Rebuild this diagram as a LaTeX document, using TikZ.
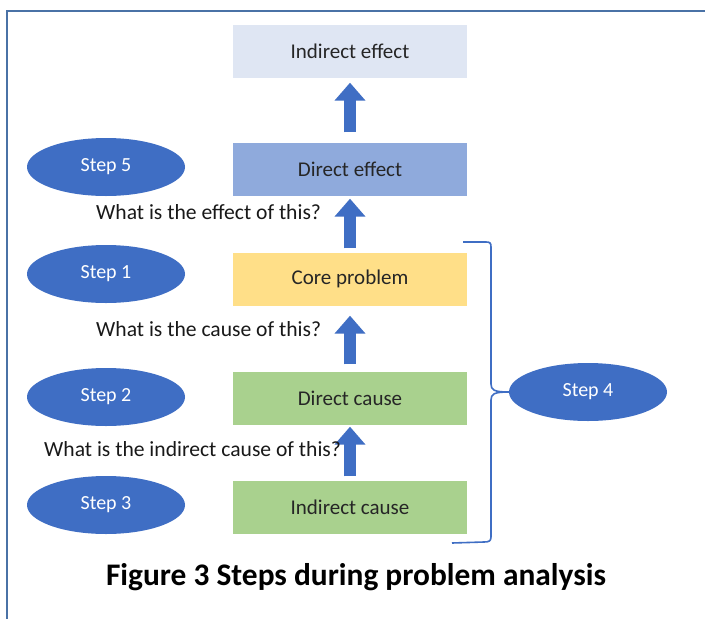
\documentclass[tikz,border=0pt]{standalone}
\usepackage{fontspec}
\setmainfont{Carlito}
\usetikzlibrary{arrows.meta,shapes.geometric}
\definecolor{frameblue}{HTML}{4A72A6}
\definecolor{stepblue}{HTML}{3F6EC4}
\definecolor{pale}{HTML}{DFE6F3}
\definecolor{mid}{HTML}{8FAADC}
\definecolor{core}{HTML}{FFDF88}
\definecolor{grn}{HTML}{A9D18E}
\begin{document}
\begin{tikzpicture}[x=1pt,y=-1pt,
  box/.style={rectangle,minimum width=234pt,minimum height=53pt,inner sep=0pt,
     font=\fontsize{21}{25}\selectfont,text=black!85},
  stepell/.style={ellipse,fill=stepblue,minimum width=158pt,minimum height=58pt,inner sep=0pt,
     text=white,font=\fontsize{20}{24}\selectfont},
  question/.style={anchor=west,inner sep=0pt,font=\fontsize{21.6}{26}\selectfont,text=black!90},
  bigarrow/.style={draw=stepblue,line width=12pt,-{Triangle[width=30pt,length=18pt]}},
  bracestyle/.style={draw=stepblue,line width=1.6pt,line join=round}]
\useasboundingbox (0,0) rectangle (705,619);
\fill[white] (0,0) rectangle (705,619);
% frame
\draw[frameblue,line width=1.8pt] (7,619) -- (7,11) -- (705,11);

% boxes
\node[box,fill=pale] (ie) at (350,51) {Indirect effect};
\node[box,fill=mid]  (de) at (350,169) {Direct effect};
\node[box,fill=core] (cp) at (350,279) {Core problem};
\node[box,fill=grn]  (dc) at (350,398) {Direct cause};
\node[box,fill=grn]  (ic) at (350,507) {Indirect cause};

% arrows
\draw[bigarrow,shorten <=10pt,shorten >=5pt] (de.north) -- (ie.south);
\draw[bigarrow,shorten <=4pt,shorten >=3pt] (cp.north) -- (de.south);
\draw[bigarrow,shorten <=7pt,shorten >=10pt] (dc.north) -- (cp.south);
\draw[bigarrow,shorten <=4pt,shorten >=2pt] (ic.north) -- (dc.south);

% step ellipses
\node[stepell] (s5) at (106,167) {Step 5};
\node[stepell] (s1) at (106,274) {Step 1};
\node[stepell] (s2) at (106,397) {Step 2};
\node[stepell] (s3) at (106,505) {Step 3};
\node[stepell] (s4) at (588,392) {Step 4};

% questions
\node[question] (q1) at (96,212) {What is the effect of this?};
\node[question] (q2) at (96,329) {What is the cause of this?};
\node[question] (q3) at (44,449) {What is the indirect cause of this?};

% brace
\coordinate (bt) at (463,242);
\coordinate (bb) at (452,543);
\draw[bracestyle] (bt) -- (486,242) .. controls (490,242) and (491,243) .. (491,247)
   -- (491,384) .. controls (491,390) and (494,392) .. (s4.west)
   .. controls (494,392) and (491,394) .. (491,400)
   -- (491,537) .. controls (491,541) and (489,542) .. (484,542) -- (bb);

% caption
\node[font=\bfseries\fontsize{31.4}{36}\selectfont,text=black] (cap) at (356,577) {Figure 3 Steps during problem analysis};
\end{tikzpicture}
\end{document}
